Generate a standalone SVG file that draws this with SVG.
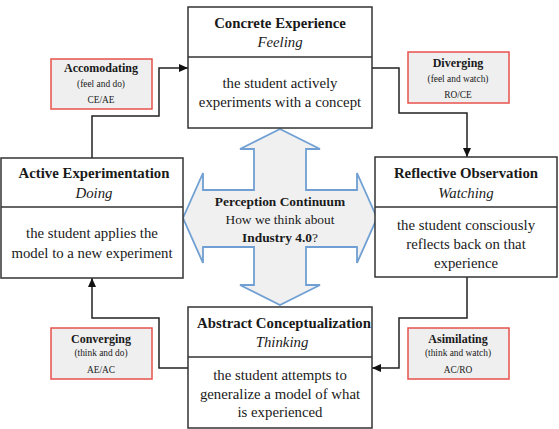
<svg xmlns="http://www.w3.org/2000/svg" width="559" height="429" viewBox="0 0 559 429" font-family="Liberation Serif, DejaVu Serif, serif">
<style>
  .box { fill: #ffffff; stroke: #333333; stroke-width: 1.5; }
  .div { stroke: #333333; stroke-width: 1.5; }
  .lab { fill: #efefef; stroke: #e8504c; stroke-width: 1.5; }
  text { font-family: 'Liberation Serif', 'DejaVu Serif', serif; fill: #1a1a1a; text-anchor: middle; }
  .t { font-size: 14.8px; font-weight: bold; }
  .s { font-size: 14.8px; font-style: italic; }
  .b { font-size: 14.8px; }
  .lt { font-size: 12px; font-weight: bold; }
  .ls { font-size: 9.4px; }
  .ct { font-size: 13.4px; }
  .conn { fill: none; stroke: #222222; stroke-width: 1.5; }
  .big { fill: #f0f0f0; stroke: #6f9fd3; stroke-width: 1.8; stroke-linejoin: miter; }
</style>
<defs>
  <marker id="ah" markerUnits="userSpaceOnUse" markerWidth="10" markerHeight="10" viewBox="0 0 10 10" refX="9" refY="5" orient="auto">
    <path d="M0,1 L9,5 L0,9 Z" fill="#111111"/>
  </marker>
</defs>

<g id="perception-continuum">
  <polygon class="big" points="280,129 320,149 306,149 306,190 357,190 357,173 377,218 357,263 357,247 306,247 306,285 320,285 280,305 240,285 254,285 254,247 203,247 203,263 183,218 203,173 203,190 254,190 254,149 240,149"/>
  <text class="ct" x="280" y="206" font-weight="bold">Perception Continuum</text>
  <text class="ct" x="280" y="224">How we think about</text>
  <text class="ct" x="280" y="242"><tspan font-weight="bold">Industry 4.0</tspan>?</text>
</g>

<g id="connectors">
  <path class="conn" d="M92,158 V116 H159 V68 H188" marker-end="url(#ah)"/>
  <path class="conn" d="M372,68 H399 V113 H467 V157" marker-end="url(#ah)"/>
  <path class="conn" d="M467,277 V318 H399 V368 H372" marker-end="url(#ah)"/>
  <path class="conn" d="M188,368 H159 V318 H92 V278" marker-end="url(#ah)"/>
</g>

<g id="concrete-experience">
  <rect class="box" x="188" y="7" width="184" height="121"/>
  <line class="div" x1="188" y1="57" x2="372" y2="57"/>
  <text class="t" x="280" y="28">Concrete Experience</text>
  <text class="s" x="280" y="47">Feeling</text>
  <text class="b" x="280" y="88">the student actively</text>
  <text class="b" x="280" y="107">experiments with a concept</text>
</g>

<g id="reflective-observation">
  <rect class="box" x="375" y="157" width="182" height="120"/>
  <line class="div" x1="375" y1="207" x2="557" y2="207"/>
  <text class="t" x="466" y="178">Reflective Observation</text>
  <text class="s" x="466" y="198">Watching</text>
  <text class="b" x="466" y="230">the student consciously</text>
  <text class="b" x="466" y="249">reflects back on that</text>
  <text class="b" x="466" y="268">experience</text>
</g>

<g id="abstract-conceptualization">
  <rect class="box" x="188" y="307" width="184" height="121"/>
  <line class="div" x1="188" y1="357" x2="372" y2="357"/>
  <text class="t" x="284" y="328">Abstract Conceptualization</text>
  <text class="s" x="282" y="347">Thinking</text>
  <text class="b" x="280" y="380">the student attempts to</text>
  <text class="b" x="280" y="399">generalize a model of what</text>
  <text class="b" x="280" y="417">is experienced</text>
</g>

<g id="active-experimentation">
  <rect class="box" x="1" y="158" width="182" height="120"/>
  <line class="div" x1="1" y1="207" x2="183" y2="207"/>
  <text class="t" x="94" y="178">Active Experimentation</text>
  <text class="s" x="94" y="198">Doing</text>
  <text class="b" x="92" y="238">the student applies the</text>
  <text class="b" x="92" y="258">model to a new experiment</text>
</g>

<g id="accomodating">
  <rect class="lab" x="51" y="59" width="101" height="50"/>
  <text class="lt" x="101" y="72">Accomodating</text>
  <text class="ls" x="101" y="87">(feel and do)</text>
  <text class="ls" x="101" y="103">CE/AE</text>
</g>

<g id="diverging">
  <rect class="lab" x="408" y="52" width="101" height="51"/>
  <text class="lt" x="458" y="67">Diverging</text>
  <text class="ls" x="458" y="82">(feel and watch)</text>
  <text class="ls" x="458" y="98">RO/CE</text>
</g>

<g id="converging">
  <rect class="lab" x="51" y="328" width="101" height="51"/>
  <text class="lt" x="101" y="343">Converging</text>
  <text class="ls" x="101" y="356">(think and do)</text>
  <text class="ls" x="101" y="373">AE/AC</text>
</g>

<g id="asimilating">
  <rect class="lab" x="408" y="328" width="101" height="51"/>
  <text class="lt" x="458" y="343">Asimilating</text>
  <text class="ls" x="458" y="356">(think and watch)</text>
  <text class="ls" x="458" y="373">AC/RO</text>
</g>
</svg>
